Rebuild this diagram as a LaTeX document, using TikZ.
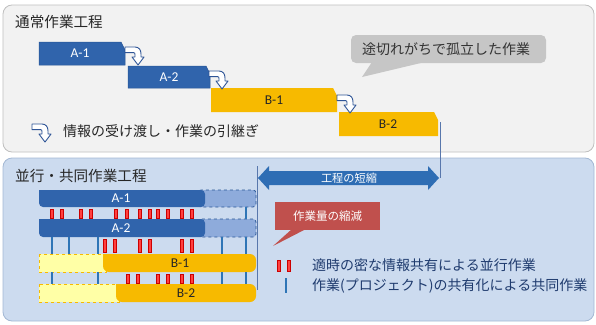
\documentclass[tikz,border=0pt]{standalone}
\usepackage{fontspec}
\newfontfamily\jp{Noto Sans CJK JP}
\newfontfamily\lat{Carlito}
\definecolor{pgray}{HTML}{F2F2F2}
\definecolor{pgrayb}{HTML}{BFBFBF}
\definecolor{pblue}{HTML}{CCDBEF}
\definecolor{pblueb}{HTML}{A3B8D4}
\definecolor{barblue}{HTML}{3064AC}
\definecolor{barblueb}{HTML}{2A5696}
\definecolor{extblue}{HTML}{8EABDB}
\definecolor{barorange}{HTML}{F7BA00}
\definecolor{lyellow}{HTML}{FFFFA6}
\definecolor{bubgray}{HTML}{C6C6C6}
\definecolor{redbox}{HTML}{C0504D}
\definecolor{arrblue}{HTML}{2E6DB4}
\definecolor{navy}{HTML}{1F3B6E}
\definecolor{lineblue}{HTML}{2E75B6}
\definecolor{iconblue}{HTML}{2F5597}
\tikzset{
  panel/.style={rounded corners=9pt, line width=0.8pt},
  barlabel/.style={font=\lat\fontsize{13.5}{15}\selectfont, inner sep=0pt},
  jptext/.style={font=\jp\fontsize{14}{16}\selectfont, inner sep=0pt, anchor=west},
  titletext/.style={font=\jp\fontsize{14.6}{16}\selectfont, inner sep=0pt, anchor=west, text=black!85},
  redpair/.style={fill=red!75!white, draw=red!80!black, line width=0.6pt},
  bluelink/.style={draw=lineblue, line width=1.6pt},
  handoff/.pic={
    \draw[iconblue, fill=white, line width=0.9pt, line join=round]
      (0,0) -- (10,0) .. controls (14,0) and (16,3) .. (16,7) -- (16,10) -- (19,10)
      -- (13,18) -- (7,10) -- (10,10) -- (10,7.5) .. controls (10,6.2) and (9.6,5.6) .. (8.5,5.6)
      -- (0,5.6) -- cycle;
  }
}
\newcommand{\redbars}[3]{%
  \foreach \xx in {#1} {
    \path[redpair] (\xx-1.6,#2) rectangle (\xx+1.6,#3);
  }}
\begin{document}
\begin{tikzpicture}[x=1pt,y=-1pt]
\useasboundingbox (0,0) rectangle (596,324);
% panels
\path[panel, fill=pgray, draw=pgrayb] (3,5) rectangle (594,152);
\path[panel, fill=pblue, draw=pblueb] (3,158) rectangle (594,321);
\node[titletext] (t1) at (15,22) {通常作業工程};
\node[titletext] (t2) at (15,176) {並行・共同作業工程};

% top bars
\path[fill=barblue, draw=barblueb, line width=0.5pt] (39,42) -- (121,42) -- (125,50) -- (125,65) -- (39,65) -- cycle;
\node[barlabel, text=white] (ta1) at (80,53.5) {A-1};
\path[fill=barblue, draw=barblueb, line width=0.5pt] (128,66) -- (206,66) -- (210,74) -- (210,88) -- (128,88) -- cycle;
\node[barlabel, text=white] (ta2) at (169,77) {A-2};
\path[fill=barorange] (211,88) -- (333,88) -- (337,96) -- (337,112) -- (211,112) -- cycle;
\node[barlabel, text=black!85] (tb1) at (274,100) {B-1};
\path[fill=barorange] (339,112) -- (434,112) -- (438,120) -- (438,136) -- (339,136) -- cycle;
\node[barlabel, text=black!85] (tb2) at (388,124) {B-2};
\coordinate (b2end) at (440,122);

% handoff icons
\pic at (125,47) {handoff};
\pic at (209,71) {handoff};
\pic at (337,95) {handoff};
\pic at (32,124) {handoff};
\node[jptext, text=black!85] (leg0) at (63,131) {情報の受け渡し・作業の引継ぎ};

% gray bubble
\path[fill=bubgray, rounded corners=5pt] (351,35) rectangle (546,63);
\path[fill=bubgray] (372,62) -- (362,77) -- (425,62) -- cycle;
\node[jptext, text=black!80] (bub) at (362,49) {途切れがちで孤立した作業};

% shortening arrow
\coordinate (sl) at (257,166);
\coordinate (sr) at (440,178);
\draw[iconblue!80, line width=0.9pt] (b2end) -- (sr);
\draw[iconblue!80, line width=0.9pt] (sl) -- (257,290);
\path[fill=arrblue] (258,178) -- (269,166) -- (269,171) -- (428,171) -- (428,166) -- (439,178) -- (428,190) -- (428,185) -- (269,185) -- (269,190) -- cycle;
\node[font=\jp\fontsize{11.2}{12}\selectfont, text=white, inner sep=0pt] (short) at (349,178) {工程の短縮};

% bottom bars: A rows
\path[fill=extblue, draw=barblueb, dashed, line width=0.8pt, rounded corners=3pt] (198,190) rectangle (256,207);
\path[fill=barblue, rounded corners=4pt] (39,190) -- (205,190) -- (205,207) -- (39,207) [sharp corners] -- cycle;
\node[barlabel, text=white] (ba1) at (121,198.5) {A-1};
\path[fill=extblue, draw=barblueb, dashed, line width=0.8pt, rounded corners=3pt] (198,219) rectangle (256,237);
\path[fill=barblue, rounded corners=4pt] (39,219) -- (205,219) -- (205,237) -- (39,237) [sharp corners] -- cycle;
\node[barlabel, text=white] (ba2) at (121,228) {A-2};

% bottom bars: B rows
\path[fill=lyellow, draw=barorange, dashed, line width=1pt] (39,254) rectangle (106,272);
\path[fill=barorange, rounded corners=6pt] (103,254) -- (256,254) -- (256,272) -- (103,272) [sharp corners] -- cycle;
\node[barlabel, text=black!85] (bb1) at (180,263) {B-1};
\path[fill=lyellow, draw=barorange, dashed, line width=1pt] (39,284) rectangle (119,302);
\path[fill=barorange, rounded corners=6pt] (116,284) -- (256,284) -- (256,302) -- (116,302) [sharp corners] -- cycle;
\node[barlabel, text=black!85] (bb2) at (186,293) {B-2};

% red pairs
\redbars{52,62,81,91,116,127,140,150,158,168,182,192}{209}{218}
\redbars{105,115,140,150,182,192}{239}{252}
\redbars{128,138,158,168,182,192}{274}{283}
% blue links
\foreach \xx in {246} { \draw[bluelink] (\xx,207) -- (\xx,219); }
\foreach \xx in {52,69,98,222,246} { \draw[bluelink] (\xx,237) -- (\xx,254); }
\foreach \xx in {52,98,222,246} { \draw[bluelink] (\xx,272) -- (\xx,284); }

% red callout
\path[fill=redbox] (275,202) rectangle (380,230);
\path[fill=redbox] (292,229) -- (273,246) -- (306,229) -- cycle;
\node[font=\jp\fontsize{11.5}{12}\selectfont, text=white, inner sep=0pt] (cut) at (327.5,216) {作業量の縮減};

% legend
\path[redpair] (277.5,260) rectangle (280.5,271);
\path[redpair] (287.5,260) rectangle (290.5,271);
\node[jptext, text=navy] (leg1) at (312,265) {適時の密な情報共有による並行作業};
\draw[bluelink] (286,278) -- (286,293);
\node[jptext, text=navy] (leg2) at (312,286) {作業(プロジェクト)の共有化による共同作業};
\end{tikzpicture}
\end{document}
